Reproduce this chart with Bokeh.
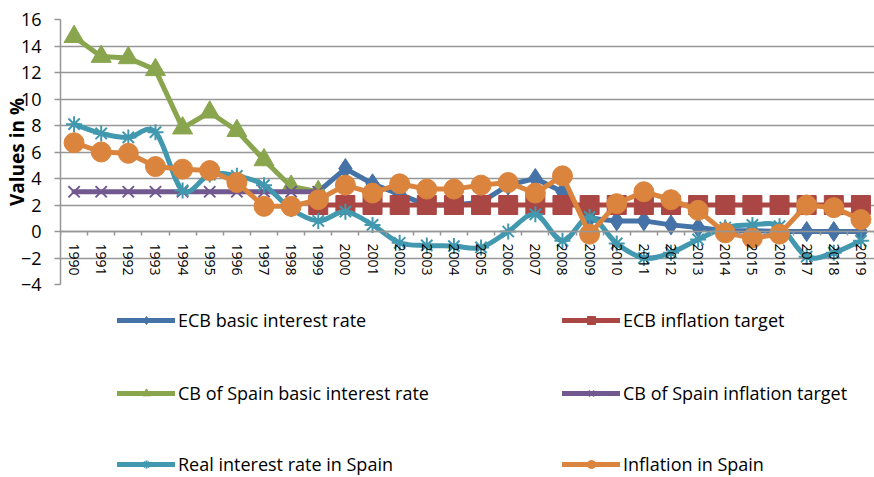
import numpy as np
from bokeh.plotting import figure
from bokeh.layouts import column
from bokeh.models import FixedTicker, Range1d, Legend, LegendItem, ColumnDataSource
from bokeh.embed import file_html
from bokeh.resources import INLINE

# ---------------- data ----------------
years = list(range(1990, 2020))
ecb_years = list(range(1999, 2020))
spain_years = list(range(1990, 2000))

ecb_rate = [3.0, 4.75, 3.6, 2.8, 2.0, 2.0, 2.2, 3.5, 4.0, 3.0,
            1.0, 0.8, 0.8, 0.5, 0.3, 0.05, 0.05, 0.0, 0.0, 0.0, 0.0]
ecb_target = [2.0, 2.0, 2.0, 2.0, 2.0, 2.0, 2.0, 2.0, 2.0, 2.0,
              2.0, 2.0, 2.0, 2.0, 2.0, 2.0, 2.0, 2.0, 2.0, 2.0, 2.0]
spain_rate = [14.7, 13.2, 13.1, 12.2, 7.8, 9.0, 7.6, 5.4, 3.4, 3.0]
spain_target = [3.0, 3.0, 3.0, 3.0, 3.0, 3.0, 3.0, 3.0, 3.0, 3.0]
real_rate = [8.1, 7.4, 7.1, 7.5, 3.1, 4.3, 4.2, 3.5, 1.7, 0.8,
             1.5, 0.5, -0.85, -1.05, -1.1, -1.2, 0.0, 1.3, -0.7, 1.1,
             -0.9, -2.0, -1.6, -0.6, 0.3, 0.5, 0.4, -1.9, -1.6, -0.7]
inflation = [6.7, 6.0, 5.9, 4.9, 4.7, 4.6, 3.7, 1.9, 1.9, 2.4,
             3.5, 2.9, 3.6, 3.2, 3.2, 3.5, 3.7, 2.9, 4.2, -0.2,
             2.1, 3.0, 2.4, 1.6, -0.1, -0.5, -0.2, 2.0, 1.8, 0.9]
y_ticks = [-4, -2, 0, 2, 4, 6, 8, 10, 12, 14, 16]

labels = ["ECB basic interest rate", "ECB inflation target",
          "CB of Spain basic interest rate", "CB of Spain inflation target",
          "Real interest rate in Spain", "Inflation in Spain"]

BLUE = "#4572A7"
RED = "#AA4643"
GREEN = "#89A54E"
PURPLE = "#71588F"
CYAN = "#4198AF"
ORANGE = "#DB843D"
GRID = "#969696"
FONT = "Open Sans"

# (color, marker, marker size, marker line width) per series, in legend order
styles = [(BLUE, "diamond", 20, 1), (RED, "square", 19, 1),
          (GREEN, "triangle", 20, 1), (PURPLE, "x", 16, 2),
          (CYAN, "asterisk", 16, 2), (ORANGE, "circle", 20, 1)]

p = figure(width=874, height=300, x_range=Range1d(1989.5, 2019.5),
           y_range=Range1d(-4, 16), output_backend="svg", toolbar_location=None,
           min_border_left=60, min_border_right=0, min_border_top=19,
           min_border_bottom=16)
p.outline_line_color = None
p.background_fill_color = "white"
p.border_fill_color = "white"

# axes
p.yaxis.ticker = FixedTicker(ticks=y_ticks)
p.ygrid.ticker = FixedTicker(ticks=y_ticks)
p.ygrid.grid_line_color = GRID
p.ygrid.grid_line_width = 1.5
p.xgrid.visible = False
p.yaxis.major_tick_in = 0
p.yaxis.major_tick_out = 6
p.yaxis.minor_tick_line_color = None
p.yaxis.axis_line_color = GRID
p.yaxis.axis_line_width = 1.5
p.yaxis.major_tick_line_color = GRID
p.yaxis.major_tick_line_width = 1.5
p.yaxis.major_label_text_font = FONT
p.yaxis.major_label_text_font_size = "18px"
p.yaxis.major_label_text_color = "black"
p.yaxis.major_label_standoff = 13
p.yaxis.axis_label = "Values in %"
p.yaxis.axis_label_text_font = FONT
p.yaxis.axis_label_text_font_size = "19px"
p.yaxis.axis_label_text_font_style = "bold"
p.yaxis.axis_label_text_color = "black"
p.yaxis.axis_label_standoff = -12

p.xaxis.fixed_location = 0
p.xaxis.ticker = FixedTicker(ticks=years, minor_ticks=[y - 0.5 for y in years] + [2019.5])
p.xaxis.major_tick_line_color = None
p.xaxis.minor_tick_in = 0
p.xaxis.minor_tick_out = 4
p.xaxis.minor_tick_line_color = GRID
p.xaxis.minor_tick_line_width = 1.5
p.xaxis.axis_line_color = GRID
p.xaxis.axis_line_width = 1.5
p.xaxis.major_label_orientation = "vertical"
p.xaxis.major_label_standoff = 6
p.xaxis.major_label_text_font = FONT
p.xaxis.major_label_text_font_size = "14px"
p.xaxis.major_label_text_color = "black"


def series(x, y, style):
    color, marker, size, lw = style
    p.line(x, y, line_color=color, line_width=5, line_join="round", line_cap="round")
    p.scatter(x, y, marker=marker, size=size, fill_color=color,
              line_color=color, line_width=lw)


series(ecb_years, ecb_rate, styles[0])
series(ecb_years, ecb_target, styles[1])
series(spain_years, spain_rate, styles[2])
series(spain_years, spain_target, styles[3])

# smoothed real-rate line (Bezier through the data points)
yr = np.array(years, dtype=float)
rr = np.array(real_rate, dtype=float)
xp = np.concatenate([[yr[0]], yr, [yr[-1]]])
yp = np.concatenate([[rr[0]], rr, [rr[-1]]])
n = len(yr)
seg = dict(
    x0=yr[:-1], y0=rr[:-1], x1=yr[1:], y1=rr[1:],
    cx0=yr[:-1] + (xp[2:n + 1] - xp[0:n - 1]) / 6.0,
    cy0=rr[:-1] + (yp[2:n + 1] - yp[0:n - 1]) / 6.0,
    cx1=yr[1:] - (xp[3:n + 2] - xp[1:n]) / 6.0,
    cy1=rr[1:] - (yp[3:n + 2] - yp[1:n]) / 6.0,
)
p.bezier(x0="x0", y0="y0", x1="x1", y1="y1", cx0="cx0", cy0="cy0",
         cx1="cx1", cy1="cy1", source=ColumnDataSource(seg),
         line_color=CYAN, line_width=5, line_cap="round")
p.scatter(years, real_rate, marker="asterisk", size=16, line_color=CYAN, line_width=2)

series(years, inflation, styles[5])

# ---------------- legend panel ----------------
lg = figure(width=874, height=177, x_range=Range1d(0, 1), y_range=Range1d(0, 1),
            output_backend="svg", toolbar_location=None,
            min_border_left=0, min_border_right=0, min_border_top=0, min_border_bottom=0)
lg.axis.visible = False
lg.grid.visible = False
lg.outline_line_color = None
lg.background_fill_color = "white"
lg.border_fill_color = "white"

NAN = float("nan")
col_x = [57, 502]
row_y = [145, 72, 1]
for i, (lab, st) in enumerate(zip(labels, styles)):
    color, marker, size, lw = st
    # legend-only renderers: no visible data in this panel
    rl = lg.line([NAN], [NAN], line_color=color, line_width=5, line_cap="round")
    rm = lg.scatter([NAN], [NAN], marker=marker, fill_color=color, line_color=color,
                    line_width=lw)
    leg = Legend(items=[LegendItem(label=lab, renderers=[rl, rm])],
                 location=(col_x[i % 2], row_y[i // 2]),
                 glyph_width=58, glyph_height=20, label_height=22,
                 label_standoff=3, padding=0, margin=0, spacing=0,
                 border_line_color=None, background_fill_alpha=0,
                 label_text_font=FONT, label_text_font_size="18px",
                 label_text_color="black")
    lg.add_layout(leg)

layout = column(p, lg, spacing=0)
open("out.html", "w").write(file_html(layout, INLINE))
